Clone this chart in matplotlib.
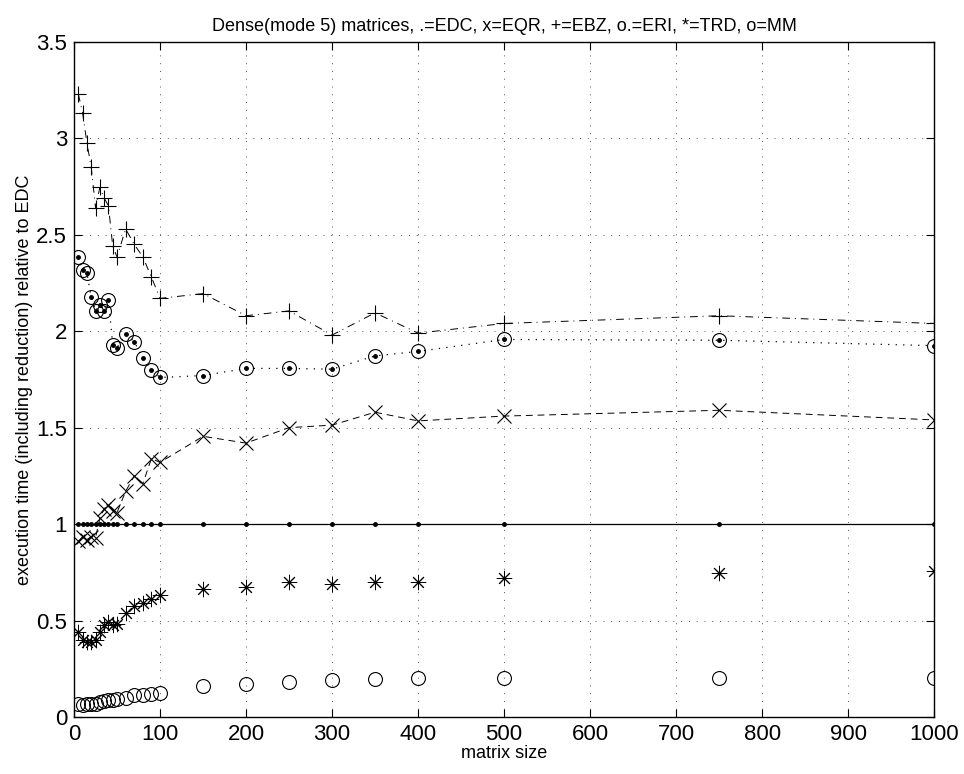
import numpy as np
import matplotlib
matplotlib.use('Agg')
import matplotlib.pyplot as plt

plt.rcParams['font.family'] = ['Liberation Sans', 'DejaVu Sans']

n = [5, 10, 15, 20, 25, 30, 35, 40, 45, 50, 60, 70, 80, 90, 100,
     150, 200, 250, 300, 350, 400, 500, 750, 1000]
edc = [1.0] * len(n)
eqr = [0.91, 0.935, 0.92, 0.935, 0.93, 1.03, 1.08, 1.10, 1.07, 1.06, 1.17, 1.25, 1.21, 1.34, 1.32,
       1.455, 1.42, 1.50, 1.513, 1.58, 1.535, 1.56, 1.59, 1.54]
ebz = [3.23, 3.13, 2.975, 2.85, 2.64, 2.745, 2.69, 2.65, 2.44, 2.385, 2.53, 2.45, 2.385, 2.28, 2.17,
       2.195, 2.08, 2.105, 1.98, 2.095, 1.99, 2.04, 2.08, 2.04]
eri = [2.385, 2.316, 2.30, 2.175, 2.105, 2.135, 2.105, 2.16, 1.93, 1.915, 1.985, 1.945, 1.86, 1.80, 1.76,
       1.77, 1.807, 1.807, 1.803, 1.872, 1.895, 1.957, 1.953, 1.925]
trd = [0.44, 0.40, 0.39, 0.39, 0.40, 0.44, 0.477, 0.494, 0.477, 0.48, 0.54, 0.575, 0.589, 0.61, 0.632,
       0.665, 0.675, 0.70, 0.69, 0.70, 0.70, 0.72, 0.745, 0.755]
mm = [0.07, 0.06, 0.065, 0.065, 0.07, 0.08, 0.085, 0.09, 0.09, 0.095, 0.10, 0.115, 0.115, 0.12, 0.125,
      0.16, 0.17, 0.18, 0.19, 0.195, 0.20, 0.20, 0.20, 0.20]

fig = plt.figure(figsize=(9.64, 7.74), dpi=100)
ax = fig.add_axes([0.0768, 0.0736, 0.8922, 0.8724])

k = 'black'
ax.plot(n, edc, '-', color=k, lw=0.9, marker='.', ms=5)
ax.plot(n, eqr, '--', color=k, lw=0.7, marker='x', ms=10, mew=0.8, dashes=(7, 5))
ax.plot(n, ebz, '-.', color=k, lw=0.7, marker='+', ms=11, mew=0.8, dashes=(8, 5, 1, 5))
ax.plot(n, eri, ':', color=k, lw=0.9, marker='o', ms=10, mfc='none', mew=0.8, dashes=(1, 5))
ax.plot(n, eri, ' ', color=k, marker='.', ms=5)
ax.plot(n, trd, ' ', color=k, marker=(8, 2, 0), ms=11, mew=0.7)
ax.plot(n, mm, ' ', color=k, marker='o', ms=10, mfc='none', mew=0.8)

ax.set_xlim(0, 1000)
ax.set_ylim(0, 3.5)
ax.set_xticks(np.arange(0, 1001, 100))
ax.set_yticks(np.arange(0, 3.51, 0.5))
ax.set_yticklabels(['0', '0.5', '1', '1.5', '2', '2.5', '3', '3.5'])
ax.grid(True, linestyle=(0, (1, 7)), color='#555555', lw=0.7)
ax.tick_params(direction='in', labelsize=16, length=6, pad=5, top=True, right=True)
for s in ax.spines.values():
    s.set_linewidth(1.0)

ax.set_title('Dense(mode 5) matrices, .=EDC, x=EQR, +=EBZ, o.=ERI, *=TRD, o=MM', fontsize=13, pad=8)
ax.set_xlabel('matrix size', fontsize=13, labelpad=0)
ax.set_ylabel('execution time (including reduction) relative to EDC', fontsize=13, labelpad=2)

fig.savefig('out.png', dpi=100)
